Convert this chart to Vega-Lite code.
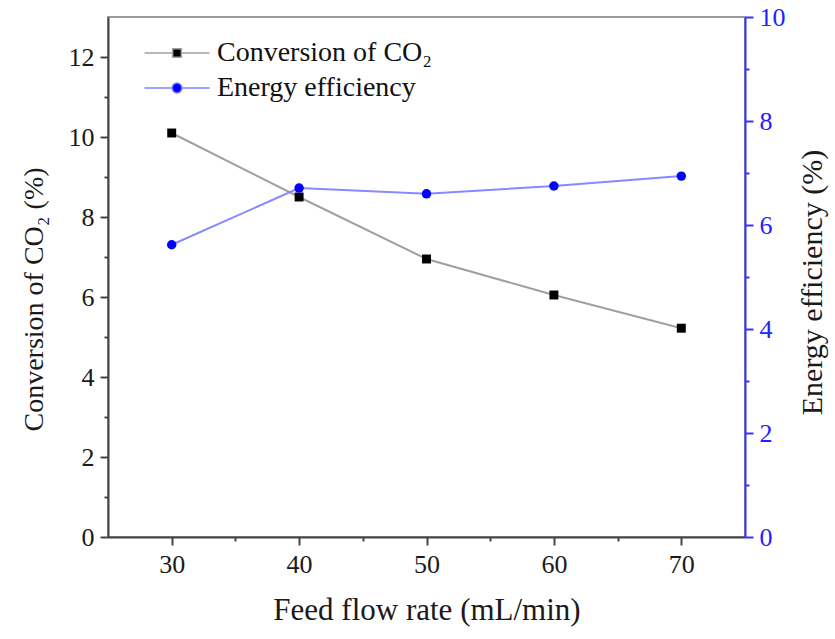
{
  "$schema": "https://vega.github.io/schema/vega-lite/v6.json",
  "width": 637,
  "height": 520,
  "autosize": "none",
  "padding": {"left": 108, "top": 17, "right": 90, "bottom": 102},
  "background": "white",
  "config": {
    "font": "Liberation Serif",
    "view": {"stroke": "#9a9a9a", "strokeWidth": 2},
    "axis": {
      "labelFont": "Liberation Serif",
      "titleFont": "Liberation Serif",
      "labelFontSize": 26,
      "titleFontSize": 30,
      "titleFontWeight": "normal",
      "grid": false,
      "labelColor": "#1a1a1a",
      "titleColor": "#1a1a1a",
      "domainColor": "#444444",
      "domainWidth": 2,
      "tickColor": "#444444",
      "tickWidth": 2,
      "tickSize": 8
    }
  },
  "data": {
    "values": [
      {"flow": 30, "conversion": 10.1, "energy": 5.62},
      {"flow": 40, "conversion": 8.5, "energy": 6.71},
      {"flow": 50, "conversion": 6.95, "energy": 6.6},
      {"flow": 60, "conversion": 6.05, "energy": 6.75},
      {"flow": 70, "conversion": 5.22, "energy": 6.94}
    ]
  },
  "layer": [
    {
      "encoding": {
        "x": {
          "field": "flow", "type": "quantitative",
          "scale": {"domain": [25, 75], "nice": false, "zero": false},
          "axis": {"values": [30, 40, 50, 60, 70], "title": "Feed flow rate (mL/min)", "titleFontSize": 31, "labelPadding": 6, "titlePadding": 18}
        },
        "y": {
          "field": "conversion", "type": "quantitative",
          "scale": {"domain": [0, 13], "nice": false},
          "axis": {"orient": "left", "values": [0, 2, 4, 6, 8, 10, 12], "title": "Conversion of CO₂ (%)", "titleFontSize": 28, "titleY": 282, "labelPadding": 6, "titlePadding": 20}
        }
      },
      "layer": [
        {"mark": {"type": "line", "color": "#a0a0a0", "strokeWidth": 2}},
        {
          "mark": {"type": "point", "shape": "square", "filled": true, "size": 80, "opacity": 1},
          "encoding": {
            "color": {
              "datum": "Conversion of CO₂",
              "scale": {"domain": ["Conversion of CO₂", "Energy efficiency"], "range": ["#000000", "#0000ff"]},
              "legend": {
                "orient": "none",
                "legendX": 55,
                "legendY": 22,
                "title": null,
                "padding": 0,
                "labelFont": "Liberation Serif",
                "labelFontSize": 28,
                "labelColor": "#111111",
                "labelLimit": 500,
                "symbolSize": 470,
                "labelOffset": 26,
                "rowPadding": 7,
                "encoding": {
                  "symbols": {
                    "shape": {
                      "condition": {"test": "datum.value === 'Energy efficiency'", "value": "M-3,0L-0.45,0M0.45,0L3,0M-0.45,0A0.45,0.45 0 1,0 0.45,0A0.45,0.45 0 1,0 -0.45,0Z"},
                      "value": "M-3,0L-0.4,0M0.4,0L3,0M-0.4,-0.4L0.4,-0.4L0.4,0.4L-0.4,0.4Z"
                    },
                    "stroke": {
                      "condition": {"test": "datum.value === 'Energy efficiency'", "value": "#8080ff"},
                      "value": "#a0a0a0"
                    },
                    "fill": {
                      "condition": {"test": "datum.value === 'Energy efficiency'", "value": "#0000ff"},
                      "value": "#000000"
                    },
                    "strokeWidth": {"value": 1.5},
                    "opacity": {"value": 1}
                  }
                }
              }
            }
          }
        }
      ]
    },
    {
      "encoding": {
        "x": {"field": "flow", "type": "quantitative", "scale": {"domain": [25, 75], "nice": false, "zero": false}, "axis": null},
        "y": {
          "field": "energy", "type": "quantitative",
          "scale": {"domain": [0, 10], "nice": false},
          "axis": {
            "orient": "right", "values": [0, 2, 4, 6, 8, 10], "title": "Energy efficiency (%)",
            "titleAngle": 270, "titleY": 265,
            "domainColor": "#3333ff", "tickColor": "#3333ff", "labelColor": "#2222ff",
            "labelPadding": 6, "titlePadding": 42
          }
        }
      },
      "layer": [
        {"mark": {"type": "line", "color": "#8888ff", "strokeWidth": 2}},
        {
          "mark": {"type": "point", "shape": "circle", "filled": true, "size": 90, "opacity": 1},
          "encoding": {
            "color": {"datum": "Energy efficiency"}
          }
        }
      ]
    },
    {
      "mark": {"type": "point", "opacity": 0},
      "encoding": {
        "x": {
          "field": "flow", "type": "quantitative",
          "scale": {"domain": [25, 75], "nice": false, "zero": false},
          "axis": {"orient": "bottom", "values": [35, 45, 55, 65], "labels": false, "domain": false, "tickSize": 4, "title": null}
        },
        "y": {
          "field": "conversion", "type": "quantitative",
          "scale": {"domain": [0, 13], "nice": false},
          "axis": {"orient": "left", "values": [1, 3, 5, 7, 9, 11], "labels": false, "domain": false, "tickSize": 4, "title": null}
        }
      }
    },
    {
      "mark": {"type": "point", "opacity": 0},
      "encoding": {
        "x": {"field": "flow", "type": "quantitative", "scale": {"domain": [25, 75], "nice": false, "zero": false}, "axis": null},
        "y": {
          "field": "energy", "type": "quantitative",
          "scale": {"domain": [0, 10], "nice": false},
          "axis": {"orient": "right", "values": [1, 3, 5, 7, 9], "labels": false, "domain": false, "tickSize": 4, "tickColor": "#3333ff", "title": null}
        }
      }
    }
  ],
  "resolve": {"scale": {"x": "independent", "y": "independent"}}
}
